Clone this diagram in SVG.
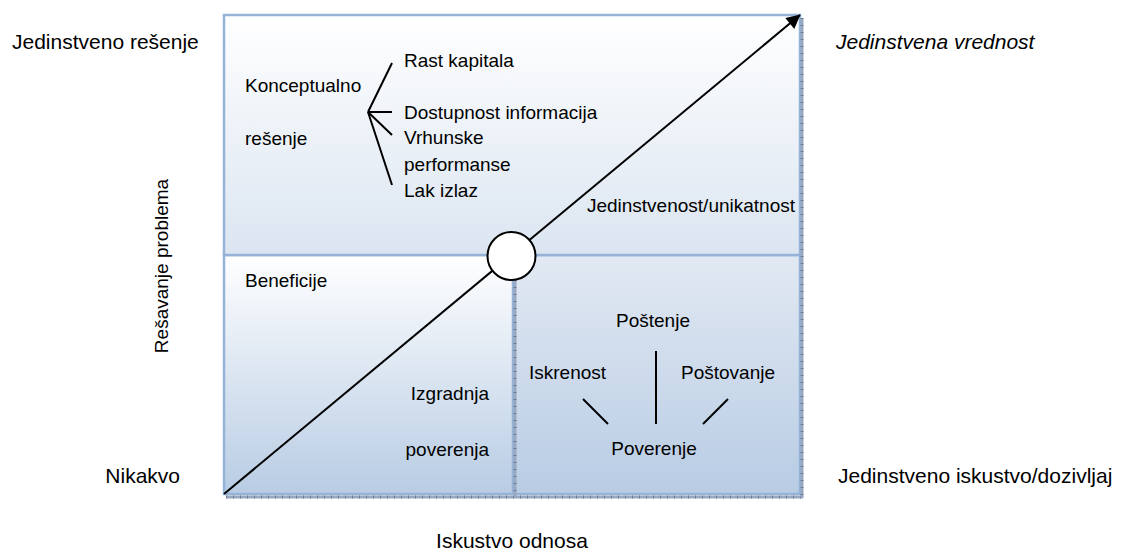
<svg xmlns="http://www.w3.org/2000/svg" width="1133" height="553" viewBox="0 0 1133 553">
  <defs>
    <linearGradient id="gTop" x1="0" y1="0" x2="0" y2="1">
      <stop offset="0" stop-color="#ffffff"/>
      <stop offset="1" stop-color="#dbe5f1"/>
    </linearGradient>
    <linearGradient id="gLeft" x1="0" y1="0" x2="0" y2="1">
      <stop offset="0" stop-color="#ffffff"/>
      <stop offset="1" stop-color="#b8cce4"/>
    </linearGradient>
    <linearGradient id="gRight" x1="0" y1="0" x2="0" y2="1">
      <stop offset="0" stop-color="#e2e9f3"/>
      <stop offset="1" stop-color="#b8cce4"/>
    </linearGradient>
    <marker id="arrow" viewBox="0 0 10 10" refX="9.5" refY="5" markerWidth="18" markerHeight="14" markerUnits="userSpaceOnUse" orient="auto" overflow="visible">
      <path d="M0,0 L10,5 L0,10 Z" fill="#000"/>
    </marker>
    <style>
      .box { stroke: #95b3d7; stroke-width: 2.5; }
      .shadow { stroke: #98a8c0; stroke-width: 3; }
      .shadowTick { stroke: #6d7d96; stroke-width: 3; stroke-dasharray: 1 6; }
      .t { font-family: "Liberation Sans", Arial, sans-serif; font-size: 19px; fill: #000; }
      .big { font-size: 21px; }
      .ln { stroke: #000; stroke-width: 2; fill: none; }
    </style>
  </defs>

  <rect width="1133" height="553" fill="#ffffff"/>

  <!-- quadrant boxes -->
  <g id="box-bottom-right">
    <rect x="514" y="255" width="286" height="239" fill="url(#gRight)" class="box"/>
  </g>
  <g id="box-bottom-left">
    <rect x="224" y="255" width="289" height="239" fill="url(#gLeft)" class="box"/>
  </g>
  <g id="box-top">
    <rect x="224" y="15" width="576" height="240" fill="url(#gTop)" class="box"/>
  </g>

  <!-- drop shadows along the bottom and right edges -->
  <g id="shadows">
    <line x1="226" y1="497" x2="803" y2="497" class="shadow"/>
    <line x1="226" y1="497" x2="803" y2="497" class="shadowTick"/>
    <line x1="802" y1="18" x2="802" y2="498" class="shadow"/>
    <line x1="802" y1="18" x2="802" y2="498" class="shadowTick"/>
    <line x1="515" y1="280" x2="515" y2="496" class="shadow"/>
    <line x1="515" y1="280" x2="515" y2="496" class="shadowTick"/>
  </g>

  <!-- connectors -->
  <g id="connectors">
    <line x1="224" y1="494" x2="800" y2="15" class="ln" marker-end="url(#arrow)"/>
    <!-- fork from Konceptualno rešenje -->
    <line x1="368" y1="112" x2="392" y2="63" class="ln"/>
    <line x1="368" y1="112" x2="392" y2="112" class="ln"/>
    <line x1="368" y1="112" x2="392" y2="135" class="ln"/>
    <line x1="368" y1="112" x2="392" y2="185" class="ln"/>
    <!-- strokes around Poverenje -->
    <line x1="583" y1="399" x2="608" y2="424" class="ln"/>
    <line x1="656" y1="351" x2="656" y2="424" class="ln"/>
    <line x1="728" y1="399" x2="703" y2="424" class="ln"/>
  </g>

  <g id="node-center">
    <circle cx="511.5" cy="256" r="24" fill="#ffffff" stroke="#000" stroke-width="2"/>
  </g>

  <!-- axis labels -->
  <g id="axis-labels">
    <text class="t big" x="12" y="49">Jedinstveno rešenje</text>
    <text class="t big" x="836" y="49" font-style="italic">Jedinstvena vrednost</text>
    <text class="t big" x="180" y="483" text-anchor="end">Nikakvo</text>
    <text class="t big" x="838" y="483">Jedinstveno iskustvo/dozivljaj</text>
    <text class="t big" x="512" y="548" text-anchor="middle">Iskustvo odnosa</text>
    <text class="t" font-size="20" transform="translate(168,266) rotate(-90)" text-anchor="middle">Rešavanje problema</text>
  </g>

  <g id="node-konceptualno">
    <text class="t" x="245" y="92">Konceptualno</text>
    <text class="t" x="245" y="145">rešenje</text>
  </g>
  <g id="node-fork-items">
    <text class="t" x="404" y="67">Rast kapitala</text>
    <text class="t" x="404" y="119">Dostupnost informacija</text>
    <text class="t" x="404" y="144">Vrhunske</text>
    <text class="t" x="404" y="171">performanse</text>
    <text class="t" x="404" y="197">Lak izlaz</text>
  </g>
  <g id="node-jedinstvenost">
    <text class="t" x="795" y="212" text-anchor="end">Jedinstvenost/unikatnost</text>
  </g>
  <g id="node-beneficije">
    <text class="t" x="245" y="287">Beneficije</text>
  </g>
  <g id="node-izgradnja">
    <text class="t" x="489" y="400" text-anchor="end">Izgradnja</text>
    <text class="t" x="489" y="456" text-anchor="end">poverenja</text>
  </g>
  <g id="node-poverenje">
    <text class="t" x="653" y="327" text-anchor="middle">Poštenje</text>
    <text class="t" x="529" y="379">Iskrenost</text>
    <text class="t" x="681" y="379">Poštovanje</text>
    <text class="t" x="654" y="455" text-anchor="middle">Poverenje</text>
  </g>
</svg>
